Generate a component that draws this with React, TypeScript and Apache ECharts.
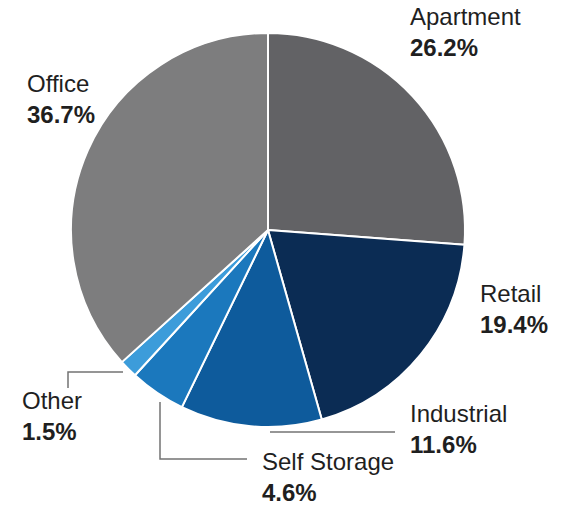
import React, { useEffect, useRef } from "react";
import * as echarts from "echarts";

const categories = ["Apartment", "Retail", "Industrial", "Self Storage", "Other", "Office"];
const shares = [26.2, 19.4, 11.6, 4.6, 1.5, 36.7];
const colors = ["#626265", "#0b2c54", "#0e5b9c", "#1b78bd", "#3c9cda", "#7d7d7e"];

// label anchor (top-left) per category
const labelPos: Record<string, [number, number]> = {
  Apartment: [410, 1],
  Retail: [480, 278],
  Industrial: [410, 398],
  "Self Storage": [262, 446],
  Other: [22, 385],
  Office: [27, 68],
};
const leaderLines: Record<string, number[][] | null> = {
  Apartment: null,
  Retail: null,
  Industrial: [[270, 432], [330, 432], [395, 432]],
  "Self Storage": [[160, 402], [160, 459], [247, 459]],
  Other: [[123, 372], [68, 372], [68, 388]],
  Office: null,
};

export default function App() {
  const ref = useRef<HTMLDivElement>(null);
  useEffect(() => {
    document.body.style.margin = "0";
    if (!ref.current) return;
    const chart = echarts.init(ref.current, null, { renderer: "svg" });
    chart.setOption({
      animation: false,
      backgroundColor: "#ffffff",
      series: [
        {
          type: "pie",
          center: [268, 230],
          radius: 197,
          startAngle: 90,
          clockwise: true,
          avoidLabelOverlap: false,
          itemStyle: { borderColor: "#ffffff", borderWidth: 2 },
          label: {
            show: true,
            position: "outside",
            formatter: (p: any) => `{n|${p.name}}\n{p|${p.value.toFixed(1)}%}`,
            fontFamily: "Liberation Sans, Arial, sans-serif",
            color: "#1f1f1f",
            align: "left",
            rich: {
              n: {
                fontFamily: "Liberation Sans, Arial, sans-serif",
                fontSize: 24,
                fontWeight: "normal",
                color: "#1f1f1f",
                lineHeight: 31,
              },
              p: {
                fontFamily: "Liberation Sans, Arial, sans-serif",
                fontSize: 24,
                fontWeight: "bold",
                color: "#1f1f1f",
                lineHeight: 31,
              },
            },
          },
          labelLine: { show: true, lineStyle: { color: "#737373", width: 1.5 } },
          labelLayout: (params: any) => {
            const name = categories[params.dataIndex];
            const [x, y] = labelPos[name];
            const pts = leaderLines[name];
            const res: any = { x, y, align: "left", verticalAlign: "top" };
            if (pts) res.labelLinePoints = pts;
            return res;
          },
          data: categories.map((name, i) => ({
            name,
            value: shares[i],
            itemStyle: { color: colors[i] },
            labelLine: { show: !!leaderLines[name] },
          })),
        },
      ],
    });
    return () => chart.dispose();
  }, []);
  return <div ref={ref} style={{ width: 563, height: 508 }} />;
}
